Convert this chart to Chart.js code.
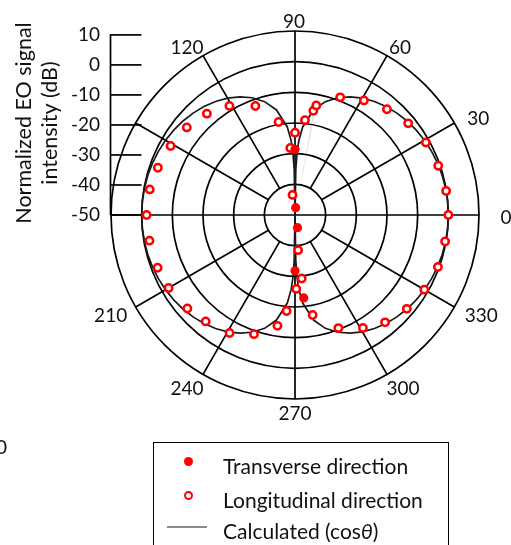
<!DOCTYPE html>
<html>
<head>
<meta charset="utf-8">
<script src="https://cdn.jsdelivr.net/npm/chart.js@4.4.1/dist/chart.umd.min.js"></script>
<style>
  html, body { margin: 0; padding: 0; background: #fff; }
  body { width: 511px; height: 545px; overflow: hidden; position: relative; font-family: Lato, "Liberation Sans", sans-serif; color: #111; }
  #wrap { position: absolute; left: 0; top: 0; width: 511px; height: 545px; }
  .lg-box { position: absolute; left: 153px; top: 442px; width: 296px; height: 140px; border: 1.5px solid #000; box-sizing: border-box; }
  .lg-text { position: absolute; font-size: 21px; line-height: 24px; white-space: nowrap; color: #111; }
  .lg-dot { position: absolute; width: 9px; height: 9px; border-radius: 50%; background: #ff0000; }
  .lg-ring { position: absolute; width: 9px; height: 9px; border-radius: 50%; background: #fff; border: 2.4px solid #ff0000; box-sizing: border-box; }
  .lg-line { position: absolute; height: 1.5px; background: #8a8a8a; }
  .frag { position: absolute; left: -4px; top: 436px; font-size: 19px; line-height: 22px; color: #111; }
</style>
</head>
<body>
<div id="wrap"><canvas id="c" width="511" height="545"></canvas></div>
<div id="legend"></div>
<div class="frag">0</div>
<script>
// ---------- data ----------
const angleTicks = [0, 30, 60, 90, 120, 150, 180, 210, 240, 270, 300, 330];
const angleTicksShown = [0, 30, 60, 90, 120, 210, 240, 270, 300, 330];
const dbTicks = [10, 0, -10, -20, -30, -40, -50];

// Transverse direction (filled markers): angle (deg), normalized signal (dB)
const transAngles = [90, 85, 270, 276, 281];
const transDb     = [-28.6, -47.6, -31.8, -22.8, -45.8];

// Longitudinal direction (open markers)
const longAngles = [0, 9, 19, 29, 39, 49, 59, 69, 79, 80, 84, 90, 94, 97,
                    100, 110, 121, 131, 141, 151, 161, 170, 180,
                    190, 201, 210, 221, 230, 241, 251, 261, 265, 271, 275, 276,
                    280, 291, 301, 310, 320, 330, 340, 350];
const longDb     = [0, -0.1, -0.6, -1.2, -2.5, -4.3, -6.4, -8.9, -13.6, -15.5, -18.9, -23.2, -28.1, -43.4,
                    -19.2, -12.2, -8.5, -6.2, -4.6, -3.6, -2.7, -1.9, -1.6,
                    -1.8, -2.0, -2.4, -3.5, -4.7, -6.0, -8.9, -13.4, -18.6, -25.9, -38.5, -29.2,
                    -16.9, -10.5, -7.0, -4.3, -2.4, -1.3, -0.4, -0.3];

// Calculated (cos theta) curve
const calcAngles = [0, 5, 10, 15, 20, 25, 30, 35, 40, 45, 50, 55, 60, 65, 70, 75, 80, 85, 87, 88, 89, 90,
                    91, 92, 93, 95, 100, 105, 110, 115, 120, 125, 130, 135, 140, 145, 150, 155, 160, 165, 170, 175, 180,
                    185, 190, 195, 200, 205, 210, 215, 220, 225, 230, 235, 240, 245, 250, 255, 260, 265, 267, 268, 269, 270,
                    271, 272, 273, 275, 280, 285, 290, 295, 300, 305, 310, 315, 320, 325, 330, 335, 340, 345, 350, 355];
const calcDb     = [0, -0.03, -0.13, -0.3, -0.54, -0.85, -1.25, -1.73, -2.32, -3.01, -3.84, -4.83, -6.02, -7.48, -9.32, -11.74, -15.21, -21.18, -25.63, -29.14, -35.16, -50,
                    -35.16, -29.14, -25.63, -21.18, -15.21, -11.74, -9.32, -7.48, -6.02, -4.83, -3.84, -3.01, -2.32, -1.73, -1.25, -0.85, -0.54, -0.3, -0.13, -0.03, 0,
                    -0.03, -0.13, -0.3, -0.54, -0.85, -1.25, -1.73, -2.32, -3.01, -3.84, -4.83, -6.02, -7.48, -9.32, -11.74, -15.21, -21.18, -25.63, -29.14, -35.16, -50,
                    -35.16, -29.14, -25.63, -21.18, -15.21, -11.74, -9.32, -7.48, -6.02, -4.83, -3.84, -3.01, -2.32, -1.73, -1.25, -0.85, -0.54, -0.3, -0.13, -0.03];

const seriesNames = ['Transverse direction', 'Longitudinal direction', 'Calculated (cos\u03B8)'];

// ---------- build the radar table (1 degree per category, counter-clockwise from 0 at right) ----------
const STEPS = 360;
const angleLabels = Array.from({length: STEPS}, (_, i) => (STEPS - i) % STEPS);
const idxOf = a => (STEPS - a) % STEPS;
function toSeries(angles, vals) {
  const arr = new Array(STEPS).fill(null);
  angles.forEach((a, k) => { arr[idxOf(a)] = vals[k]; });
  return arr;
}

const FONT = 'Lato, "Liberation Sans", sans-serif';
// label offsets (px) from the outer end of each spoke
const labelOffset = {
  0: [27, 2], 30: [24, -5], 60: [13, -9], 90: [-1, -10], 120: [-16, -9],
  210: [-25, 8], 240: [-16, 14], 270: [0, 14], 300: [16, 14], 330: [27, 8]
};

const decor = {
  id: 'decor',
  beforeDatasetsDraw(chart) {
    const ctx = chart.ctx, r = chart.scales.r, y = chart.scales.yDb;
    ctx.save();
    ctx.strokeStyle = '#000';
    ctx.lineWidth = 1.7;
    // spokes: axes through centre, others start at the -40 dB ring
    angleTicks.forEach(a => {
      const from = (a % 90 === 0) ? r.min : dbTicks[dbTicks.length - 2];
      const p0 = r.getPointPositionForValue(idxOf(a), from);
      const p1 = r.getPointPositionForValue(idxOf(a), r.max);
      ctx.beginPath(); ctx.moveTo(p0.x, p0.y); ctx.lineTo(p1.x, p1.y); ctx.stroke();
    });
    // left dB axis with inward ticks
    const x = y.right - 0.5;
    const yT = y.getPixelForValue(dbTicks[0]);
    const yB = y.getPixelForValue(dbTicks[dbTicks.length - 1]);
    ctx.beginPath(); ctx.moveTo(x, yT - 0.8); ctx.lineTo(x, yB); ctx.stroke();
    dbTicks.forEach(v => {
      const py = y.getPixelForValue(v);
      ctx.beginPath(); ctx.moveTo(x, py); ctx.lineTo(x + 31, py); ctx.stroke();
    });
    // angle labels
    ctx.fillStyle = '#111';
    ctx.font = '19px ' + FONT;
    ctx.textAlign = 'center';
    ctx.textBaseline = 'middle';
    angleTicksShown.forEach(a => {
      const p = r.getPointPositionForValue(idxOf(a), r.max);
      const o = labelOffset[a];
      ctx.fillText(String(a), p.x + o[0], p.y + o[1] + 1);
    });
    ctx.restore();
  }
};

const chart = new Chart(document.getElementById('c'), {
  type: 'radar',
  data: {
    labels: angleLabels,
    datasets: [
      {
        label: seriesNames[0],
        data: toSeries(transAngles, transDb),
        showLine: false,
        pointRadius: 4.6,
        pointBorderWidth: 0,
        pointBackgroundColor: '#ff0000',
        pointBorderColor: '#ff0000',
        order: 0
      },
      {
        label: seriesNames[1],
        data: toSeries(longAngles, longDb),
        showLine: false,
        pointRadius: 3.7,
        pointBorderWidth: 2.5,
        pointBackgroundColor: '#ffffff',
        pointBorderColor: '#ff0000',
        order: 1
      },
      {
        label: seriesNames[2],
        data: toSeries(calcAngles, calcDb),
        spanGaps: true,
        fill: false,
        borderColor: '#1a1a1a',
        borderWidth: 1.7,
        pointRadius: 0,
        tension: 0,
        order: 2
      }
    ]
  },
  options: {
    responsive: false,
    animation: false,
    devicePixelRatio: 1,
    events: [],
    layout: { padding: { left: 0, top: 31, right: 32, bottom: 146 } },
    plugins: { legend: { display: false }, tooltip: { enabled: false } },
    scales: {
      r: {
        min: dbTicks[dbTicks.length - 1],
        max: dbTicks[0],
        startAngle: 90,
        ticks: { display: false, stepSize: 10 },
        grid: { circular: true, color: '#000', lineWidth: 1.7 },
        angleLines: { display: false },
        pointLabels: { display: false }
      },
      yLow: {
        type: 'linear',
        axis: 'y',
        position: 'left',
        stack: 'dbstack',
        stackWeight: 1,
        min: 0,
        max: 1,
        afterFit: s => { s.width = 111; },
        grid: { display: false, drawTicks: false },
        border: { display: false },
        ticks: { display: false }
      },
      yDb: {
        type: 'linear',
        axis: 'y',
        position: 'left',
        stack: 'dbstack',
        stackWeight: 1,
        min: -50,
        max: 11.3,
        afterBuildTicks: s => { s.ticks = dbTicks.map(v => ({ value: v })); },
        afterFit: s => { s.width = 111; },
        grid: { display: false, drawTicks: false },
        border: { display: false },
        ticks: { color: '#111', padding: 11, autoSkip: false, font: { family: FONT, size: 19 } },
        title: {
          display: true,
          text: ['Normalized EO signal', 'intensity (dB)'],
          color: '#111',
          font: { family: FONT, size: 21.5, lineHeight: 1.22 },
          padding: { top: 11, bottom: 0 }
        }
      }
    }
  },
  plugins: [decor]
});

// ---------- HTML legend built from the datasets ----------
(function buildLegend() {
  const host = document.getElementById('legend');
  const box = document.createElement('div');
  box.className = 'lg-box';
  host.appendChild(box);
  const rows = [
    { markerCls: 'lg-dot', mx: 188, my: 461, ty: 466 },
    { markerCls: 'lg-ring', mx: 188, my: 495, ty: 500 },
    { markerCls: 'lg-line', mx: 187, my: 527, ty: 531 }
  ];
  chart.data.datasets.forEach((ds, i) => {
    const row = rows[i];
    const m = document.createElement('div');
    m.className = row.markerCls;
    if (row.markerCls === 'lg-line') {
      m.style.left = (row.mx - 20) + 'px'; m.style.width = '40px'; m.style.top = (row.my - 0.75) + 'px';
    } else {
      m.style.left = (row.mx - 4.5) + 'px'; m.style.top = (row.my - 4.5) + 'px';
    }
    host.appendChild(m);
    const t = document.createElement('div');
    t.className = 'lg-text';
    t.style.left = '223px';
    t.style.top = (row.ty - 12.5) + 'px';
    if (i === 2) {
      t.innerHTML = 'Calculated (cos<i>\u03B8</i>)';
    } else {
      t.textContent = ds.label;
    }
    host.appendChild(t);
  });
})();
</script>
</body>
</html>
